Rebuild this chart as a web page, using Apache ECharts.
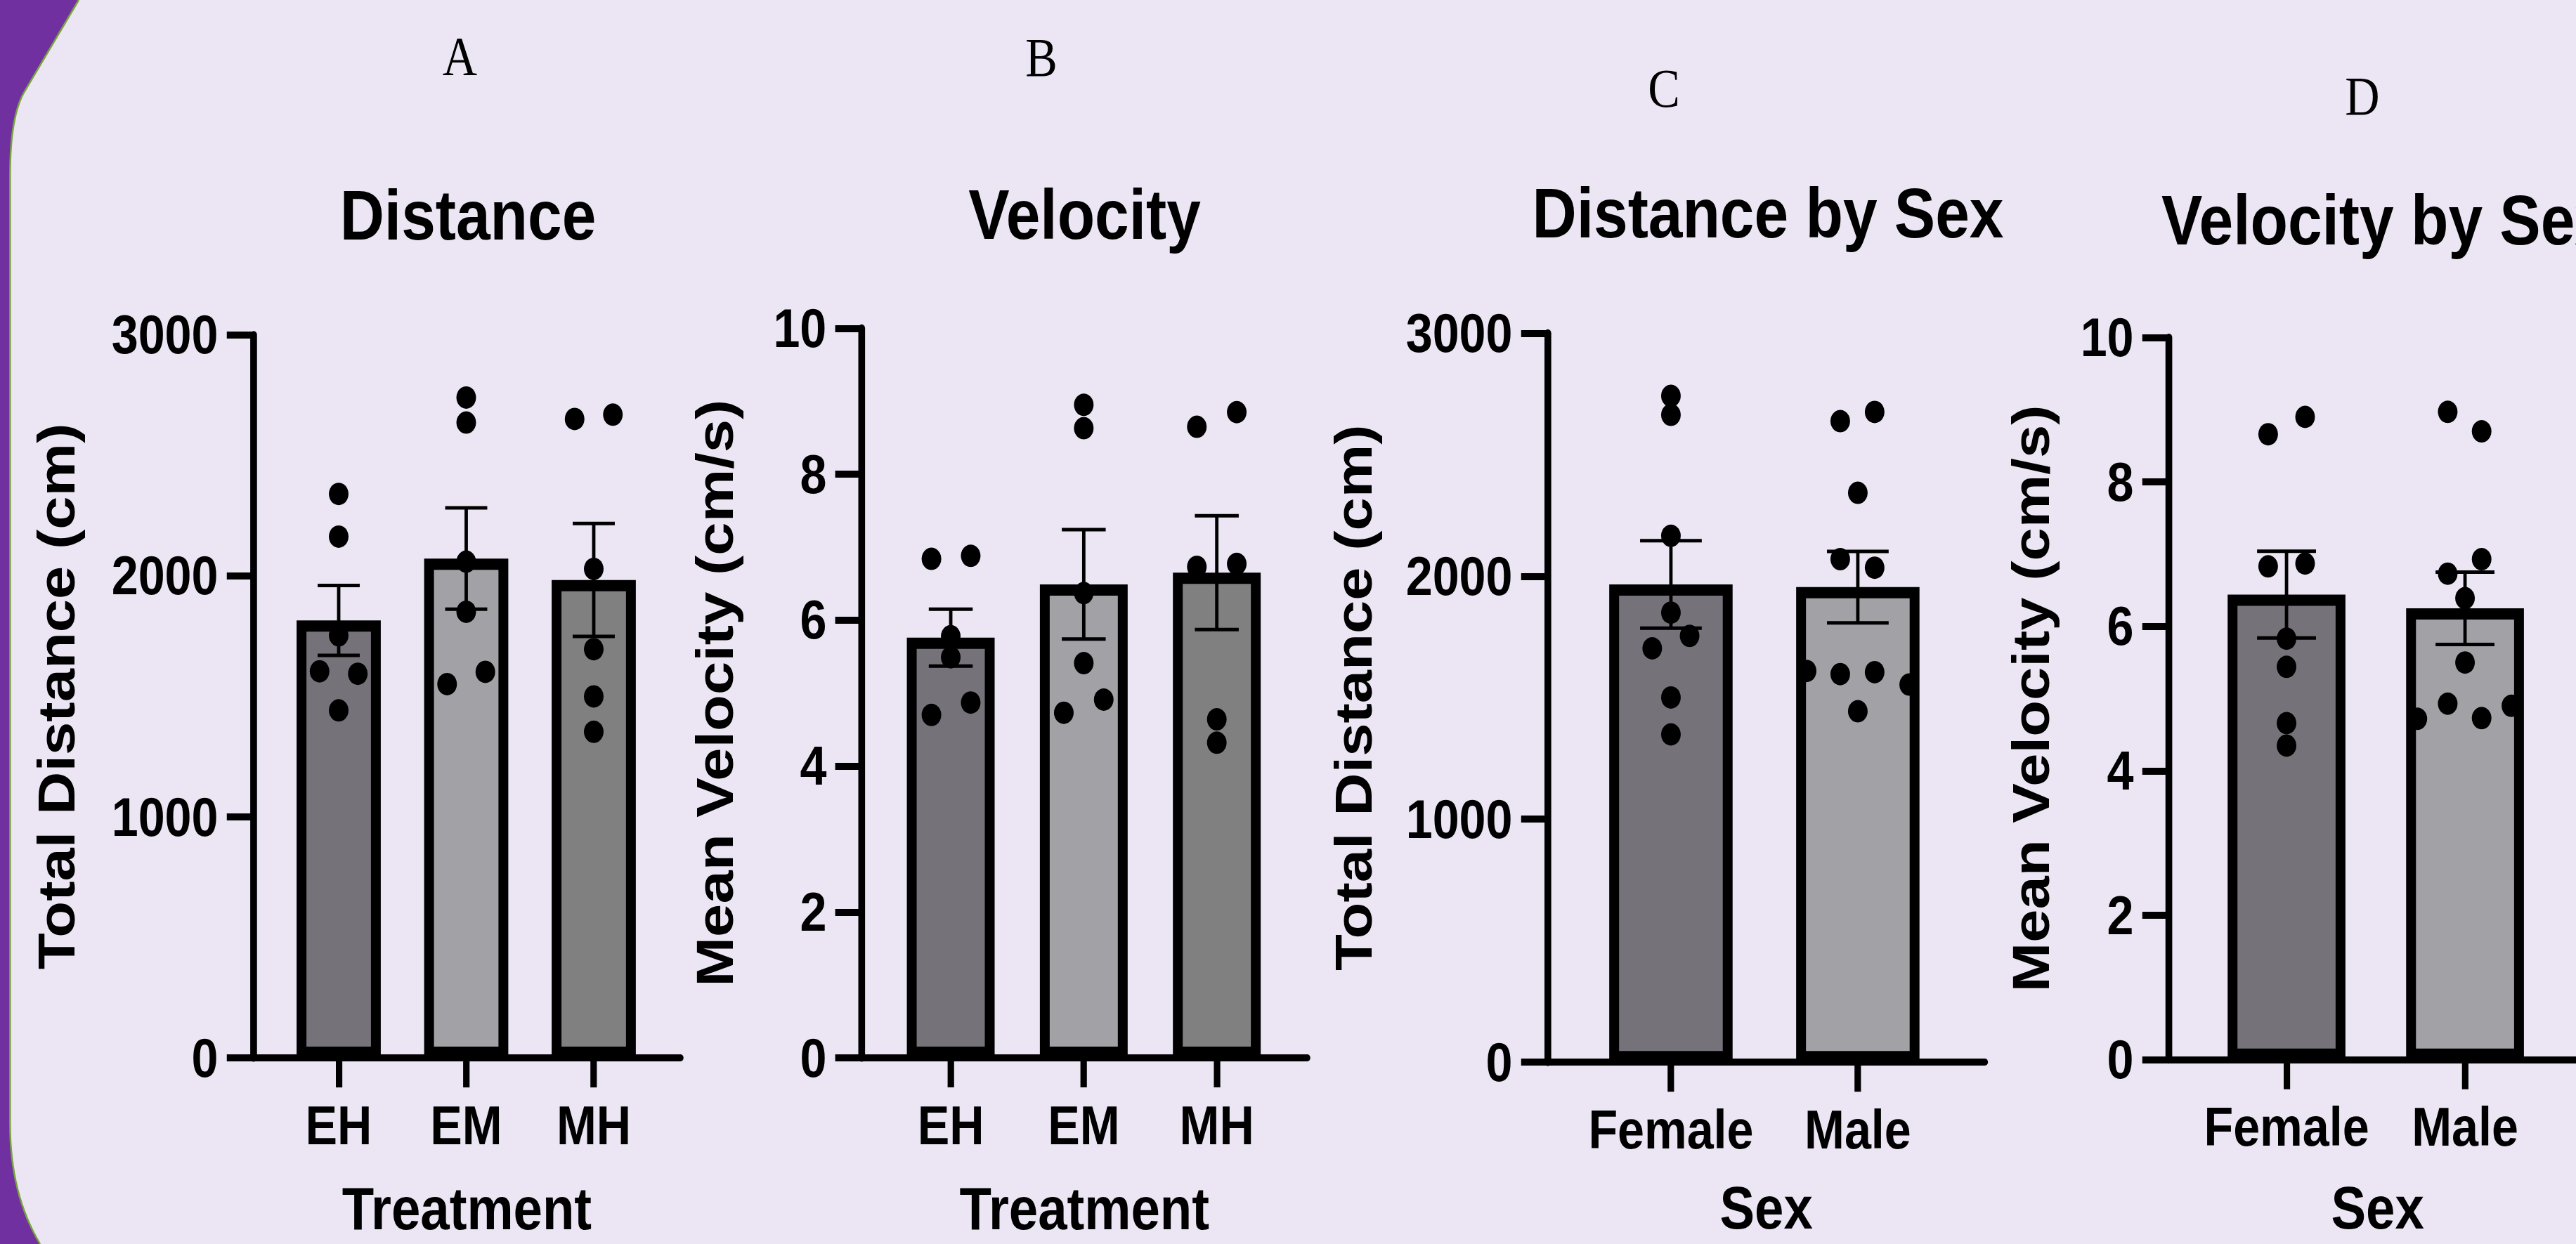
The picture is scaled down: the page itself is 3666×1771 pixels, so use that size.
<!DOCTYPE html>
<html><head><meta charset="utf-8">
<script src="https://cdn.jsdelivr.net/npm/echarts@6/dist/echarts.min.js"></script>
<style>
html,body{margin:0;padding:0;overflow:hidden;background:#ECE6F4;}
#chart{width:4190px;height:1771px;transform:scaleX(0.875);transform-origin:0 0;}
</style></head><body><div id="chart"></div>
<script>
// ---------------- data ----------------
const treatments = ['EH', 'EM', 'MH'];
const sexes = ['Female', 'Male'];
const distanceTicks = [0, 1000, 2000, 3000];
const velocityTicks = [0, 2, 4, 6, 8, 10];

const distTreatMean = [1815, 2072, 1983];
const distTreatSem = [145, 210, 234];
const distTreatPoints = [
  [2340, 2163, 1753, 1604, 1594, 1442],
  [2740, 2636, 2059, 1851, 1551, 1602],
  [2651, 2669, 2029, 1696, 1500, 1353]
];
const distTreatJitter = [
  [0, 0, 0, -0.15, 0.15, 0],
  [0, 0, 0, 0, -0.15, 0.15],
  [-0.15, 0.15, 0, 0, 0, 0]
];

const veloTreatMean = [5.76, 6.49, 6.65];
const veloTreatSem = [0.39, 0.75, 0.78];
const veloTreatPoints = [
  [6.84, 6.88, 5.78, 5.49, 4.70, 4.87],
  [8.95, 8.63, 6.37, 5.41, 4.73, 4.91],
  [8.65, 8.85, 6.73, 6.77, 4.64, 4.32]
];
const veloTreatJitter = [
  [-0.145, 0.15, 0, 0, -0.145, 0.15],
  [0, 0, 0, 0, -0.15, 0.15],
  [-0.15, 0.15, -0.15, 0.15, 0, 0]
];

const distSexMean = [1966, 1955];
const distSexSem = [180, 147];
const distSexPoints = [
  [2742, 2664, 2166, 1850, 1703, 1754, 1501, 1349],
  [2638, 2676, 2343, 2070, 2035, 1610, 1597, 1605, 1554, 1444]
];
const distSexJitter = [
  [0, 0, 0, 0, -0.1, 0.1, 0, 0],
  [-0.094, 0.09, 0, -0.094, 0.09, -0.274, -0.094, 0.09, 0.275, 0]
];

const veloSexMean = [6.44, 6.25];
const veloSexSem = [0.6, 0.5];
const veloSexPoints = [
  [8.66, 8.90, 6.83, 6.87, 5.83, 5.44, 4.66, 4.35],
  [8.97, 8.70, 6.73, 6.93, 6.39, 5.50, 4.72, 4.93, 4.73, 4.90]
];
const veloSexJitter = [
  [-0.103, 0.104, -0.103, 0.104, 0, 0, 0, 0],
  [-0.097, 0.093, -0.097, 0.093, 0, 0, -0.267, -0.097, 0.093, 0.26]
];

// ---------------- layout / style ----------------
const S = 0.875;              // horizontal squeeze of the original figure
const U = v => v / S;         // reference px -> layout px
const SANS = '"Liberation Sans", Arial, Helvetica, sans-serif';
const SERIF = '"Liberation Serif", "Times New Roman", serif';
const C_DARK = '#75727A', C_LIGHT = '#A2A1A6', C_MID = '#808080';

const panels = [
  { grid: {left: U(360.4), top: 476.7, width: U(608), height: 1029.4}, xmin: -0.67, xmax: 2.68,
    cats: treatments, ticks: distanceTicks, mean: distTreatMean, sem: distTreatSem,
    pts: distTreatPoints, jit: distTreatJitter, xName: 'Treatment', yName: 'Total Distance (cm)',
    yGap: 277, xGap: 181, colors: [C_DARK, C_LIGHT, C_MID] },
  { grid: {left: U(1226.2), top: 467.3, width: U(634.2), height: 1038.7}, xmin: -0.67, xmax: 2.68,
    cats: treatments, ticks: velocityTicks, mean: veloTreatMean, sem: veloTreatSem,
    pts: veloTreatPoints, jit: veloTreatJitter, xName: 'Treatment', yName: 'Mean Velocity (cm/s)',
    yGap: 196, xGap: 181, colors: [C_DARK, C_LIGHT, C_MID] },
  { grid: {left: U(2202.4), top: 474.3, width: U(622.4), height: 1037.9}, xmin: -0.66, xmax: 1.68,
    cats: sexes, ticks: distanceTicks, mean: distSexMean, sem: distSexSem,
    pts: distSexPoints, jit: distSexJitter, xName: 'Sex', yName: 'Total Distance (cm)',
    yGap: 273, xGap: 174, colors: [C_DARK, C_LIGHT] },
  { grid: {left: U(3086.4), top: 480.4, width: U(594.4), height: 1028.3}, xmin: -0.66, xmax: 1.68,
    cats: sexes, ticks: velocityTicks, mean: veloSexMean, sem: veloSexSem,
    pts: veloSexPoints, jit: veloSexJitter, xName: 'Sex', yName: 'Mean Velocity (cm/s)',
    yGap: 181, xGap: 177, colors: [C_DARK, C_LIGHT] }
];

const BAR_HW = 0.33, CAP_HW = 0.165, BORDER = 16;

const grids = [], xAxes = [], yAxes = [], series = [];
panels.forEach((p, k) => {
  grids.push(Object.assign({containLabel: false, outerBoundsMode: 'none'}, p.grid));
  const catIdx = p.cats.map((c, i) => i);
  xAxes.push({
    gridIndex: k, type: 'value', min: p.xmin, max: p.xmax,
    axisLine: {show: true, onZero: false, lineStyle: {color: '#000', width: 10}},
    axisTick: {show: true, customValues: catIdx, length: 42, lineStyle: {color: '#000', width: 10.5}},
    axisLabel: {show: true, customValues: catIdx, margin: 57, formatter: v => p.cats[Math.round(v)],
      color: '#000', fontFamily: SANS, fontWeight: 'bold', fontSize: 78},
    splitLine: {show: false},
    name: p.xName, nameLocation: 'middle', nameGap: p.xGap,
    nameTextStyle: {color: '#000', fontFamily: SANS, fontWeight: 'bold', fontSize: 85, lineHeight: 68}
  });
  yAxes.push({
    gridIndex: k, type: 'value', min: p.ticks[0], max: p.ticks[p.ticks.length - 1],
    axisLine: {show: true, onZero: false, lineStyle: {color: '#000', width: 11}},
    axisTick: {show: true, customValues: p.ticks, length: 43, lineStyle: {color: '#000', width: 10}},
    axisLabel: {show: true, customValues: p.ticks, margin: 57, formatter: v => String(v),
      color: '#000', fontFamily: SANS, fontWeight: 'bold', fontSize: 78},
    splitLine: {show: false},
    name: p.yName, nameLocation: 'middle', nameGap: p.yGap,
    nameTextStyle: {color: '#000', fontFamily: SANS, fontWeight: 'bold', fontSize: 85}
  });
  // bars
  series.push({
    type: 'custom', xAxisIndex: k, yAxisIndex: k, z: 2, silent: true,
    data: p.mean.map((m, i) => [i, m]),
    renderItem: (params, api) => {
      const x = api.value(0), v = api.value(1);
      const tl = api.coord([x - BAR_HW, v]), br = api.coord([x + BAR_HW, 0]);
      return {type: 'rect',
        shape: {x: tl[0] + BORDER / 2, y: tl[1] + BORDER / 2, width: br[0] - tl[0] - BORDER, height: br[1] - tl[1] - BORDER},
        style: {fill: p.colors[params.dataIndex], stroke: '#000', lineWidth: BORDER}};
    }
  });
  // dots
  const dots = [];
  p.pts.forEach((arr, i) => arr.forEach((v, j) => dots.push([i + p.jit[i][j], v])));
  series.push({
    type: 'scatter', xAxisIndex: k, yAxisIndex: k, z: 3, silent: true,
    symbol: 'circle', symbolSize: 32, itemStyle: {color: '#000', opacity: 1},
    data: dots
  });
  // error bars (mean +/- SEM)
  series.push({
    type: 'custom', xAxisIndex: k, yAxisIndex: k, z: 4, silent: true,
    data: p.mean.map((m, i) => [i, m, p.sem[i]]),
    renderItem: (params, api) => {
      const x = api.value(0), m = api.value(1), s = api.value(2);
      const top = api.coord([x, m + s]), bot = api.coord([x, m - s]);
      const cl = api.coord([x - CAP_HW, m]), cr = api.coord([x + CAP_HW, m]);
      return {type: 'group', children: [
        {type: 'line', shape: {x1: top[0], y1: top[1], x2: bot[0], y2: bot[1]}, style: {stroke: '#000', lineWidth: 5.5}},
        {type: 'line', shape: {x1: cl[0], y1: top[1], x2: cr[0], y2: top[1]}, style: {stroke: '#000', lineWidth: 5}},
        {type: 'line', shape: {x1: cl[0], y1: bot[1], x2: cr[0], y2: bot[1]}, style: {stroke: '#000', lineWidth: 5}}
      ]};
    }
  });
});

// background frame outline (reference px; the group undoes the squeeze)
function quad(p0, c, p1, n) {
  const out = [];
  for (let i = 1; i <= n; i++) {
    const t = i / n, a = (1 - t) * (1 - t), b = 2 * (1 - t) * t, d = t * t;
    out.push([a * p0[0] + b * c[0] + d * p1[0], a * p0[1] + b * c[1] + d * p1[1]]);
  }
  return out;
}
const edgePts = [[112, 0], [35, 130]]
  .concat(quad([35, 130], [14.3, 165], [14.3, 250], 16))
  .concat([[14.3, 1600]])
  .concat(quad([14.3, 1600], [14.3, 1700], [57, 1771], 16));
const fillPts = edgePts.concat([[3720, 1771], [3720, 0]]);

function txt(t, x, y, font, align) {
  return {type: 'text', x: x, y: y, z: 10, silent: true,
    style: {text: t, font: font, fill: '#000', align: align || 'center', textAlign: align || 'center',
      verticalAlign: 'middle', textVerticalAlign: 'middle'}};
}
const TITLE = 'bold 100px ' + SANS;
const LETTER = '78px ' + SERIF;

const option = {
  animation: false,
  backgroundColor: '#7030A0',
  grid: grids, xAxis: xAxes, yAxis: yAxes, series: series,
  graphic: [
    {type: 'group', scaleX: 1 / S, silent: true, z: -100, children: [
      {type: 'polygon', z: -99, shape: {points: fillPts}, style: {fill: '#ECE6F4'}},
      {type: 'polyline', z: -98, shape: {points: edgePts}, style: {fill: null, stroke: '#79A33C', lineWidth: 2.5}}
    ]},
    txt('A', U(654.5), 80, LETTER),
    txt('B', U(1482), 82, LETTER),
    txt('C', U(2368), 126, LETTER),
    txt('D', U(3362), 136.5, LETTER),
    txt('Distance', U(666), 306.7, TITLE),
    txt('Velocity', U(1543.5), 305, TITLE),
    txt('Distance by Sex', U(2516), 303.3, TITLE),
    txt('Velocity by Sex', U(3076), 313.3, TITLE, 'left')
  ]
};

const chart = echarts.init(document.getElementById('chart'), null, {renderer: 'svg', width: 4190, height: 1771});
chart.setOption(option);
</script></body></html>
